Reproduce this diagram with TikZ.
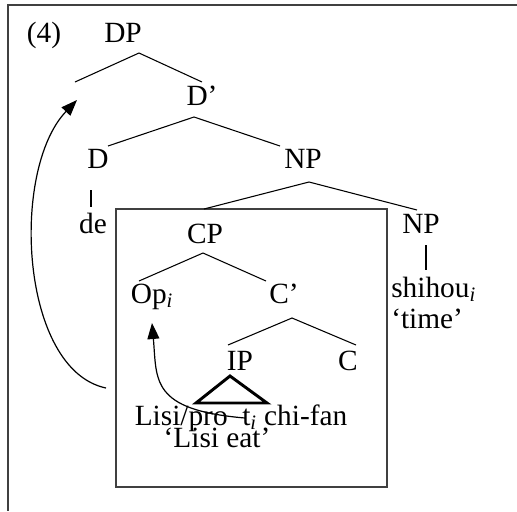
\documentclass[tikz,border=0pt]{standalone}
\usepackage{fontspec}
\setmainfont{Liberation Serif}
\usepackage{xcolor}
\usetikzlibrary{arrows.meta}

\begin{document}
\begin{tikzpicture}[x=0.75pt,y=-0.75pt,
    font=\fontsize{22}{26}\selectfont,
    every node/.style={inner sep=0pt, anchor=base},
    branch/.style={line width=0.8pt},
    bar/.style={line width=1.5pt},
    frame/.style={line width=1.5pt, draw=black!75},
    move/.style={line width=0.9pt, -{Triangle[length=12pt,width=9pt]}}]
        \useasboundingbox (0,0) rectangle (517,511);
        %% frames
        \draw[frame] (517,5) -- (8,5) -- (8,511);
        \draw[frame] (116,209) rectangle (387,487);
        %% labels
        \node (ex) at (44,42) {(4)};
        \node (dp) at (123,42) {DP};
        \node (dbar) at (202,105) {D’};
        \node (d) at (98,168) {D};
        \node (de) at (93,233) {de};
        \node (np) at (303,168) {NP};
        \node (np2) at (421,233) {NP};
        \node[anchor=base west] (shihou) at (391,297) {shihou\textsubscript{\textit{i}}};
        \node[anchor=base west] (time) at (391,328) {‘time’};
        \node (cp) at (205,243) {CP};
        \node (op) at (152,303) {Op\textsubscript{\textit{i}}};
        \node (cbar) at (284,303) {C’};
        \node (ip) at (240,370) {IP};
        \node (c) at (348,370) {C};
        \node (lisi) at (241,425) {Lisi/pro\ \ t\textsubscript{\textit{i}} chi-fan};
        \node (gloss) at (217,447) {‘Lisi eat’};
        %% branch points
        \coordinate (dp-top) at (139,53);
        \coordinate (dp-l) at (75,82);
        \coordinate (dp-r) at (202,82);
        \coordinate (dbar-top) at (194,117);
        \coordinate (dbar-l) at (108,146);
        \coordinate (dbar-r) at (280,146);
        \coordinate (np-top) at (309,182);
        \coordinate (np-l) at (204,209);
        \coordinate (np-r) at (417,210);
        \coordinate (cp-top) at (203,253);
        \coordinate (cp-l) at (139,281);
        \coordinate (cp-r) at (266,281);
        \coordinate (cbar-top) at (292,318);
        \coordinate (cbar-l) at (228,345);
        \coordinate (cbar-r) at (356,345);
        \coordinate (tri-top) at (230,376);
        \coordinate (tri-l) at (196,403);
        \coordinate (tri-r) at (267,403);
        %% edges
        \draw[branch] (dp-l) -- (dp-top) -- (dp-r);
        \draw[branch] (dbar-l) -- (dbar-top) -- (dbar-r);
        \draw[branch] (np-l) -- (np-top) -- (np-r);
        \draw[branch] (cp-l) -- (cp-top) -- (cp-r);
        \draw[branch] (cbar-l) -- (cbar-top) -- (cbar-r);
        \draw[bar] (d.south) ++(-7,22) -- ++(0,17);
        \draw[bar] (np2.south) ++(5,12) -- ++(0,25);
        \draw[line width=2.2pt, line join=miter] (tri-l) -- (tri-top) -- (tri-r) -- cycle;
        %% movement
        \coordinate (gap) at (77,100);
        \coordinate (tail1) at (106,388);
        \coordinate (tail2) at (245,418);
        \draw[move] (tail1) .. controls (20,370) and (10,170) .. (gap);
        \draw[move] (tail2) .. controls (150,410) and (157,380) .. (op.south |- 0,323);
\end{tikzpicture}
\end{document}
